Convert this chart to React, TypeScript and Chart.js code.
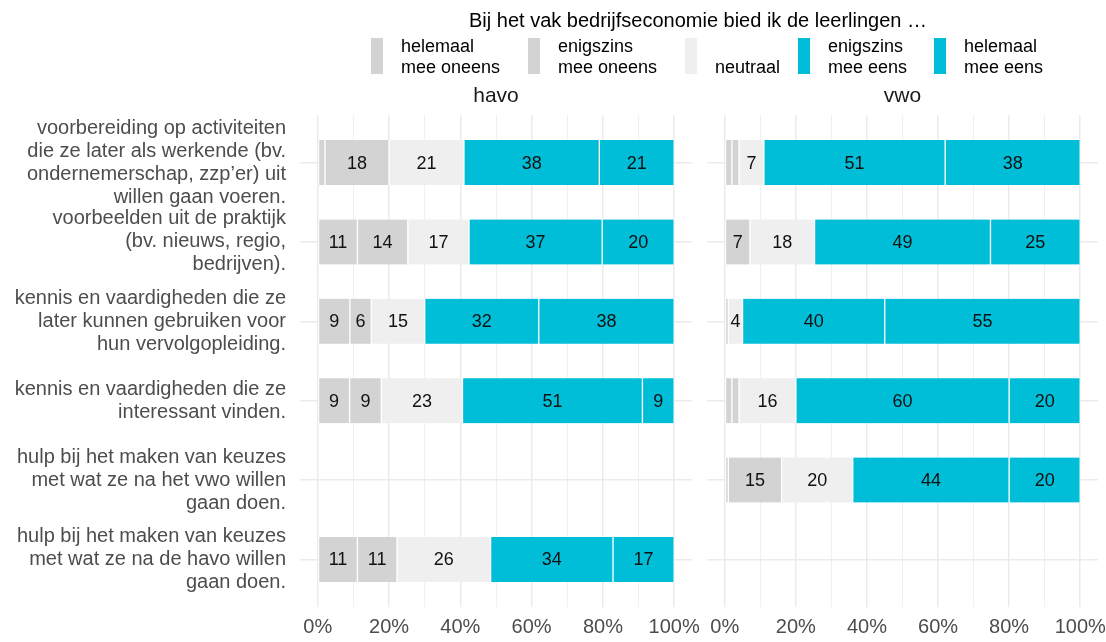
import React, { useEffect, useRef } from "react";
import { Chart, registerables } from "chart.js";

Chart.register(...registerables);

const FONT = '"Liberation Sans", Arial, Helvetica, sans-serif';

// ---- data ----
const categories: string[][] = [
  ["voorbereiding op activiteiten", "die ze later als werkende (bv.", "ondernemerschap, zzp’er) uit", "willen gaan voeren."],
  ["voorbeelden uit de praktijk", "(bv. nieuws, regio,", "bedrijven)."],
  ["kennis en vaardigheden die ze", "later kunnen gebruiken voor", "hun vervolgopleiding."],
  ["kennis en vaardigheden die ze", "interessant vinden."],
  ["hulp bij het maken van keuzes", "met wat ze na het vwo willen", "gaan doen."],
  ["hulp bij het maken van keuzes", "met wat ze na de havo willen", "gaan doen."],
];

const legendTitle = "Bij het vak bedrijfseconomie bied ik de leerlingen …";
const seriesLabels: string[][] = [
  ["helemaal", "mee oneens"],
  ["enigszins", "mee oneens"],
  ["", "neutraal"],
  ["enigszins", "mee eens"],
  ["helemaal", "mee eens"],
];
const seriesColors = ["#D3D3D3", "#D3D3D3", "#EFEFEF", "#00BED7", "#00BED7"];
const panelNames = ["havo", "vwo"];
const xTickValues = [0, 10, 20, 30, 40, 50, 60, 70, 80, 90, 100];

const havoHelemaalOneens = [2, 11, 9, 9, null, 11];
const havoEnigszinsOneens = [18, 14, 6, 9, null, 11];
const havoNeutraal = [21, 17, 15, 23, null, 26];
const havoEnigszinsEens = [38, 37, 32, 51, null, 34];
const havoHelemaalEens = [21, 20, 38, 9, null, 17];

const vwoHelemaalOneens = [2, 0, 0, 2, 1, null];
const vwoEnigszinsOneens = [2, 7, 1, 2, 15, null];
const vwoNeutraal = [7, 18, 4, 16, 20, null];
const vwoEnigszinsEens = [51, 49, 40, 60, 44, null];
const vwoHelemaalEens = [38, 25, 55, 20, 20, null];

const havoSeries = [havoHelemaalOneens, havoEnigszinsOneens, havoNeutraal, havoEnigszinsEens, havoHelemaalEens];
const vwoSeries = [vwoHelemaalOneens, vwoEnigszinsOneens, vwoNeutraal, vwoEnigszinsEens, vwoHelemaalEens];

// ---- layout (page coordinates) ----
const legendKeyX = [371, 528, 685, 798, 934];

function buildDatasets(series: (number | null)[][]) {
  const totals = categories.map((_, i) =>
    series.reduce((s, arr) => s + (arr[i] ?? 0), 0)
  );
  return series.map((arr, si) => ({
    label: seriesLabels[si].join(" ").trim(),
    backgroundColor: seriesColors[si],
    borderColor: "#FFFFFF",
    borderWidth: { left: 1, right: 1, top: 0, bottom: 0 },
    borderSkipped: false as const,
    barThickness: 45,
    data: arr
      .map((v, i) =>
        v == null || v === 0 ? null : { x: (v / totals[i]) * 100, y: i, raw: v }
      )
      .filter((d) => d !== null) as any[],
  }));
}

const labelPlugin = {
  id: "segLabels",
  afterDatasetsDraw(chart: any) {
    const ctx = chart.ctx;
    ctx.save();
    ctx.font = `18px ${FONT}`;
    ctx.fillStyle = "#111111";
    ctx.textAlign = "center";
    ctx.textBaseline = "middle";
    chart.data.datasets.forEach((ds: any, di: number) => {
      const meta = chart.getDatasetMeta(di);
      meta.data.forEach((el: any, i: number) => {
        const raw = ds.data[i].raw;
        if (raw < 3) return;
        const p = el.getProps(["x", "y", "base"], true);
        ctx.fillText(String(raw), (p.x + p.base) / 2, p.y + 1);
      });
    });
    ctx.restore();
  },
};

function makeConfig(series: (number | null)[][], showY: boolean, yWidth: number) {
  return {
    type: "bar" as const,
    data: { datasets: buildDatasets(series) },
    plugins: [labelPlugin],
    options: {
      indexAxis: "y" as const,
      animation: false as const,
      responsive: false,
      devicePixelRatio: 1,
      layout: { padding: { top: 115, right: 8, bottom: 0, left: 0 } },
      plugins: { legend: { display: false }, tooltip: { enabled: false }, title: { display: false } },
      scales: {
        x: {
          type: "linear" as const,
          stacked: true,
          min: -5,
          max: 105,
          offset: false,
          border: { display: false },
          afterBuildTicks: (scale: any) => {
            scale.ticks = xTickValues.map((v) => ({ value: v }));
          },
          afterFit: (scale: any) => {
            scale.height = 35;
            scale.paddingLeft = 0;
            scale.paddingRight = 0;
          },
          grid: {
            drawTicks: false,
            offset: false,
            color: (c: any) => (c.tick && c.tick.value % 20 === 0 ? "#EBEBEB" : "#F0F0F0"),
            lineWidth: (c: any) => (c.tick && c.tick.value % 20 === 0 ? 1.5 : 1),
          },
          ticks: {
            autoSkip: false,
            maxRotation: 0,
            padding: 8,
            color: "#4D4D4D",
            font: { family: FONT, size: 20 },
            callback: (v: any) => (Number(v) % 20 === 0 ? `${v}%` : ""),
          },
        },
        y: {
          type: "linear" as const,
          stacked: true,
          reverse: true,
          min: -0.6,
          max: 5.6,
          offset: false,
          border: { display: false },
          afterBuildTicks: (scale: any) => {
            scale.ticks = categories.map((_, i) => ({ value: i }));
          },
          afterFit: (scale: any) => {
            scale.width = yWidth;
            scale.paddingTop = 0;
            scale.paddingBottom = 0;
          },
          grid: { drawTicks: false, offset: false, color: "#EBEBEB", lineWidth: 1.5 },
          ticks: {
            display: showY,
            autoSkip: false,
            padding: 14,
            color: "#4D4D4D",
            font: { family: FONT, size: 20, lineHeight: 1.15 },
            callback: (v: any) => categories[Number(v)] ?? "",
          },
        },
      },
    },
  };
}

function Panel({ left, width, series, showY, yWidth }: any) {
  const ref = useRef<HTMLCanvasElement>(null);
  useEffect(() => {
    if (!ref.current) return;
    const chart = new Chart(ref.current, makeConfig(series, showY, yWidth) as any);
    return () => chart.destroy();
  }, []);
  return (
    <canvas
      ref={ref}
      width={width}
      height={642}
      style={{ position: "absolute", left, top: 0, width, height: 642 }}
    />
  );
}

export default function App() {
  return (
    <div
      style={{
        position: "absolute",
        left: 0,
        top: 0,
        width: 1106,
        height: 642,
        background: "#FFFFFF",
        fontFamily: FONT,
        overflow: "hidden",
      }}
    >
      <Panel left={0} width={700} series={havoSeries} showY={true} yWidth={300} />
      <Panel left={700} width={406} series={vwoSeries} showY={false} yWidth={7} />

      <div
        style={{
          position: "absolute",
          left: 398,
          width: 600,
          top: 8,
          textAlign: "center",
          fontSize: 20,
          lineHeight: "24px",
          color: "#000",
        }}
      >
        {legendTitle}
      </div>

      {seriesLabels.map((lines, i) => (
        <React.Fragment key={i}>
          <div
            style={{
              position: "absolute",
              left: legendKeyX[i],
              top: 38,
              width: 12,
              height: 36,
              background: seriesColors[i],
            }}
          />
          <div
            style={{
              position: "absolute",
              left: legendKeyX[i] + 30,
              top: 36,
              fontSize: 18,
              lineHeight: "21px",
              color: "#000",
              whiteSpace: "nowrap",
            }}
          >
            <div>{lines[0] || "\u00A0"}</div>
            <div>{lines[1]}</div>
          </div>
        </React.Fragment>
      ))}

      {panelNames.map((name, i) => (
        <div
          key={name}
          style={{
            position: "absolute",
            left: i === 0 ? 396 : 802.5,
            width: 200,
            top: 83,
            textAlign: "center",
            fontSize: 21,
            lineHeight: "24px",
            color: "#1A1A1A",
          }}
        >
          {name}
        </div>
      ))}
    </div>
  );
}
